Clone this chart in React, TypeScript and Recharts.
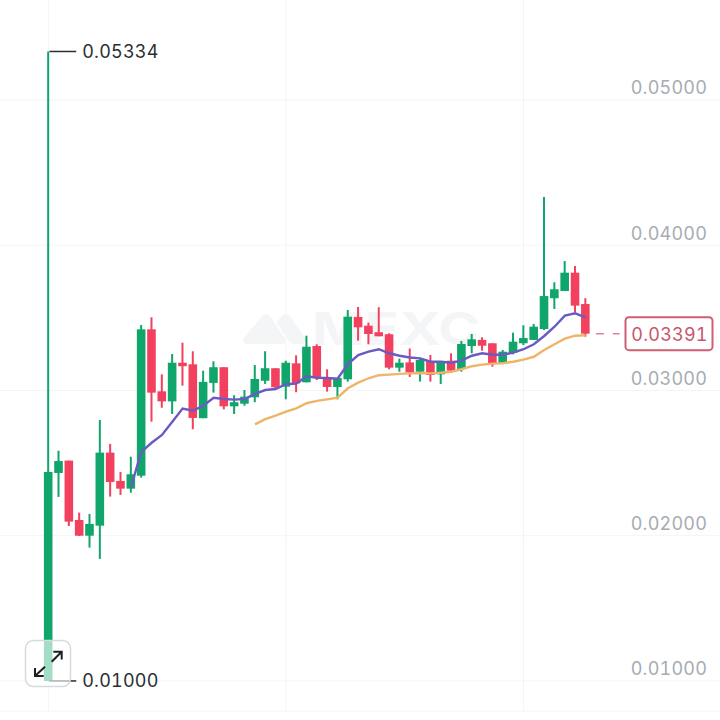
import React from 'react';
import { ComposedChart, Bar, Line, XAxis, YAxis, CartesianGrid, ReferenceLine, ReferenceDot } from 'recharts';

const opens = [0.01000,0.02432,0.02517,0.02108,0.02000,0.02069,0.02572,0.02377,0.02324,0.02413,0.03421,0.02994,0.02925,0.03191,0.03180,0.02809,0.03052,0.03160,0.02891,0.02909,0.02953,0.03067,0.03153,0.03026,0.03187,0.03056,0.03306,0.03086,0.03024,0.03077,0.03506,0.03446,0.03401,0.03387,0.03157,0.03193,0.03129,0.03203,0.03111,0.03205,0.03148,0.03306,0.03348,0.03325,0.03191,0.03260,0.03325,0.03348,0.03423,0.03635,0.03685,0.03811,0.03595];
const closes = [0.02439,0.02514,0.02097,0.02000,0.02081,0.02572,0.02370,0.02324,0.02423,0.03421,0.02985,0.02925,0.03191,0.03167,0.02811,0.03059,0.03160,0.02891,0.02919,0.02957,0.03079,0.03153,0.03022,0.03191,0.03049,0.03301,0.03091,0.03024,0.03086,0.03508,0.03435,0.03389,0.03373,0.03157,0.03191,0.03124,0.03210,0.03107,0.03198,0.03136,0.03320,0.03352,0.03308,0.03187,0.03267,0.03336,0.03361,0.03439,0.03650,0.03697,0.03811,0.03584,0.03391];
const highs = [0.05334,0.02585,0.02517,0.02159,0.02150,0.02797,0.02632,0.02439,0.02544,0.03451,0.03504,0.03111,0.03251,0.03329,0.03270,0.03136,0.03201,0.03160,0.02967,0.03003,0.03175,0.03270,0.03153,0.03205,0.03242,0.03377,0.03318,0.03146,0.03086,0.03554,0.03575,0.03467,0.03573,0.03394,0.03219,0.03289,0.03217,0.03244,0.03198,0.03256,0.03341,0.03389,0.03366,0.03325,0.03279,0.03398,0.03449,0.03458,0.04332,0.03745,0.03891,0.03857,0.03635];
const lows = [0.01000,0.02267,0.02067,0.01998,0.01918,0.01840,0.02269,0.02281,0.02296,0.02400,0.02785,0.02881,0.02838,0.03033,0.02733,0.02809,0.02985,0.02870,0.02838,0.02895,0.02919,0.03045,0.03017,0.02939,0.02988,0.03056,0.03072,0.02992,0.02939,0.03061,0.03343,0.03318,0.03373,0.03146,0.03129,0.03093,0.03061,0.03061,0.03045,0.03136,0.03129,0.03256,0.03274,0.03164,0.03191,0.03249,0.03313,0.03348,0.03416,0.03561,0.03685,0.03538,0.03370];
const maShort = [0.02336,0.02577,0.02640,0.02694,0.02785,0.02875,0.02861,0.02895,0.02950,0.02941,0.02937,0.02941,0.02976,0.03003,0.03010,0.03043,0.03047,0.03098,0.03088,0.03086,0.03081,0.03182,0.03244,0.03267,0.03284,0.03256,0.03239,0.03227,0.03221,0.03198,0.03198,0.03191,0.03205,0.03239,0.03256,0.03246,0.03246,0.03260,0.03284,0.03318,0.03375,0.03439,0.03515,0.03531,0.03504];
const maLong = [0.02767,0.02802,0.02826,0.02854,0.02877,0.02912,0.02928,0.02939,0.02950,0.03015,0.03054,0.03084,0.03105,0.03109,0.03114,0.03118,0.03120,0.03118,0.03122,0.03129,0.03146,0.03167,0.03178,0.03185,0.03187,0.03198,0.03212,0.03232,0.03279,0.03318,0.03357,0.03377,0.03380];
const maShortStart = 8;
const maLongStart = 20;
const priceTicks = [0.01, 0.02, 0.03, 0.04, 0.05];
const timeGridAt = [0, 23, 46];
const maxLabel = '0.05334';
const minLabel = '0.01000';
const lastLabel = '0.03391';
const lastPrice = 0.03391;
const minPrice = 0.01;
const maxPrice = 0.05334;

const GREEN = '#10a56a';
const RED = '#f2405f';
const FONT = 'Inter, "Noto Sans", sans-serif';
const NUM: React.CSSProperties = { fontVariantNumeric: 'tabular-nums', letterSpacing: 0.2 };

const rows = opens.map((o, i) => ({
  i,
  open: o,
  close: closes[i],
  range: [lows[i], highs[i]],
  maS: i >= maShortStart ? maShort[i - maShortStart] : null,
  maL: i >= maLongStart ? maLong[i - maLongStart] : null,
}));

function Candle(props: any) {
  const { x, y, width, height, payload } = props;
  const [low, high] = payload.range;
  const toY = (v: number) => y + ((high - v) / (high - low)) * height;
  const up = payload.close >= payload.open;
  const color = up ? GREEN : RED;
  const top = toY(Math.max(payload.open, payload.close));
  const bot = toY(Math.min(payload.open, payload.close));
  const cx = x + width / 2;
  return (
    <g>
      <rect x={cx - 1} y={y} width={2} height={height} fill={color} />
      <rect x={cx - 4.3} y={top} width={8.6} height={Math.max(bot - top, 1)} fill={color} />
    </g>
  );
}

function PriceTick(props: any) {
  const { y, payload } = props;
  return (
    <text x={707} y={y - 12} textAnchor="end" dominantBaseline="central" fontFamily={FONT} fontSize={18} fill="#a6acb3" style={NUM}>
      {payload.value.toFixed(5)}
    </text>
  );
}

function LastTag(props: any) {
  const { cy } = props;
  return (
    <g>
      <rect x={625.5} y={cy - 16.5} width={87} height={33} rx={3.5} fill="#fff" stroke="#cf5f72" strokeWidth={2} />
      <text x={669.5} y={cy + 0.5} textAnchor="middle" dominantBaseline="central" fontFamily={FONT} fontSize={18} fill="#c9566b" style={NUM}>
        {lastLabel}
      </text>
    </g>
  );
}

function ExtremeLabel(props: any) {
  const { cy, cx, text } = props;
  return (
    <text x={cx + 6} y={cy} dominantBaseline="central" fontFamily={FONT} fontSize={18} fill="#2b2f33" style={NUM}>
      {text}
    </text>
  );
}

export default function App() {
  return (
    <div style={{ position: 'absolute', left: 0, top: 0, width: 720, height: 720, background: '#fff', overflow: 'hidden' }}>
      <svg width={720} height={720} style={{ position: 'absolute', left: 0, top: 0 }}>
        <g fill="#f4f5f6">
          <path d="M262 316 Q266 312 270 316 L285 338 Q288 344 281 344 L248 344 Q241 344 244 338 Z" />
          <path d="M282 316 Q286 312 290 316 L305 338 Q308 344 301 344 L294 344 Q291 344 288 340 L276 322 Z" />
        </g>
        <text x={312} y={345} fontFamily={FONT} fontSize={45} fontWeight={700} textLength={168} lengthAdjust="spacingAndGlyphs" fill="#f4f5f6">MEXC</text>
      </svg>
      <div style={{ position: 'absolute', left: 0, top: 0 }}>
        <ComposedChart width={720} height={720} data={rows} margin={{ top: 0, right: 0, bottom: 9, left: 0 }}>
          <CartesianGrid stroke="#f3f4f6" strokeWidth={1} horizontalValues={priceTicks} verticalValues={timeGridAt} />
          <XAxis dataKey="i" type="number" domain={[-4.68, 65.02]} ticks={timeGridAt} hide allowDataOverflow />
          <YAxis
            type="number"
            domain={[0.00793, 0.056885]}
            ticks={priceTicks}
            orientation="right"
            mirror
            width={80}
            axisLine={false}
            tickLine={false}
            tick={(p: any) => <PriceTick {...p} />}
            allowDataOverflow
          />
          <ReferenceLine y={0.00793} stroke="#f3f4f6" ifOverflow="visible" />
          <Bar dataKey="range" barSize={8} shape={<Candle />} isAnimationActive={false} />
          <Line dataKey="maL" stroke="#eeb56a" strokeWidth={2.4} dot={false} isAnimationActive={false} connectNulls={false} />
          <Line dataKey="maS" stroke="#6a5bc2" strokeWidth={2.4} dot={false} isAnimationActive={false} connectNulls={false} />
          <ReferenceLine segment={[{ x: 0.1, y: maxPrice }, { x: 2.7, y: maxPrice }]} stroke="#2b2f33" strokeWidth={1.5} />
          <ReferenceLine segment={[{ x: 0.1, y: minPrice }, { x: 2.7, y: minPrice }]} stroke="#2b2f33" strokeWidth={1.5} />
          <ReferenceDot x={2.7} y={maxPrice} r={0} shape={<ExtremeLabel text={maxLabel} />} />
          <ReferenceDot x={2.7} y={minPrice} r={0} shape={<ExtremeLabel text={minLabel} />} />
          <ReferenceLine segment={[{ x: 53, y: lastPrice }, { x: 55.3, y: lastPrice }]} stroke="#e2808f" strokeWidth={1.5} strokeDasharray="8 9" />
          <ReferenceDot x={56} y={lastPrice} r={0} shape={<LastTag />} />
        </ComposedChart>
      </div>
      <svg width={720} height={720} style={{ position: 'absolute', left: 0, top: 0, pointerEvents: 'none' }}>
        <rect x={25.5} y={640.5} width={45} height={46} rx={8} fill="#ffffff" fillOpacity={0.62} stroke="#d6d9dd" strokeWidth={1.5} />
        <g fill="none" stroke="#1d1f22" strokeWidth={2}>
          <path d="M53.3 651.7 H61.7 V659.5 M61.7 651.7 L51.7 661.7" />
          <path d="M35 668 V676 H43.7 M35 676 L45 666.7" />
        </g>
      </svg>
    </div>
  );
}
